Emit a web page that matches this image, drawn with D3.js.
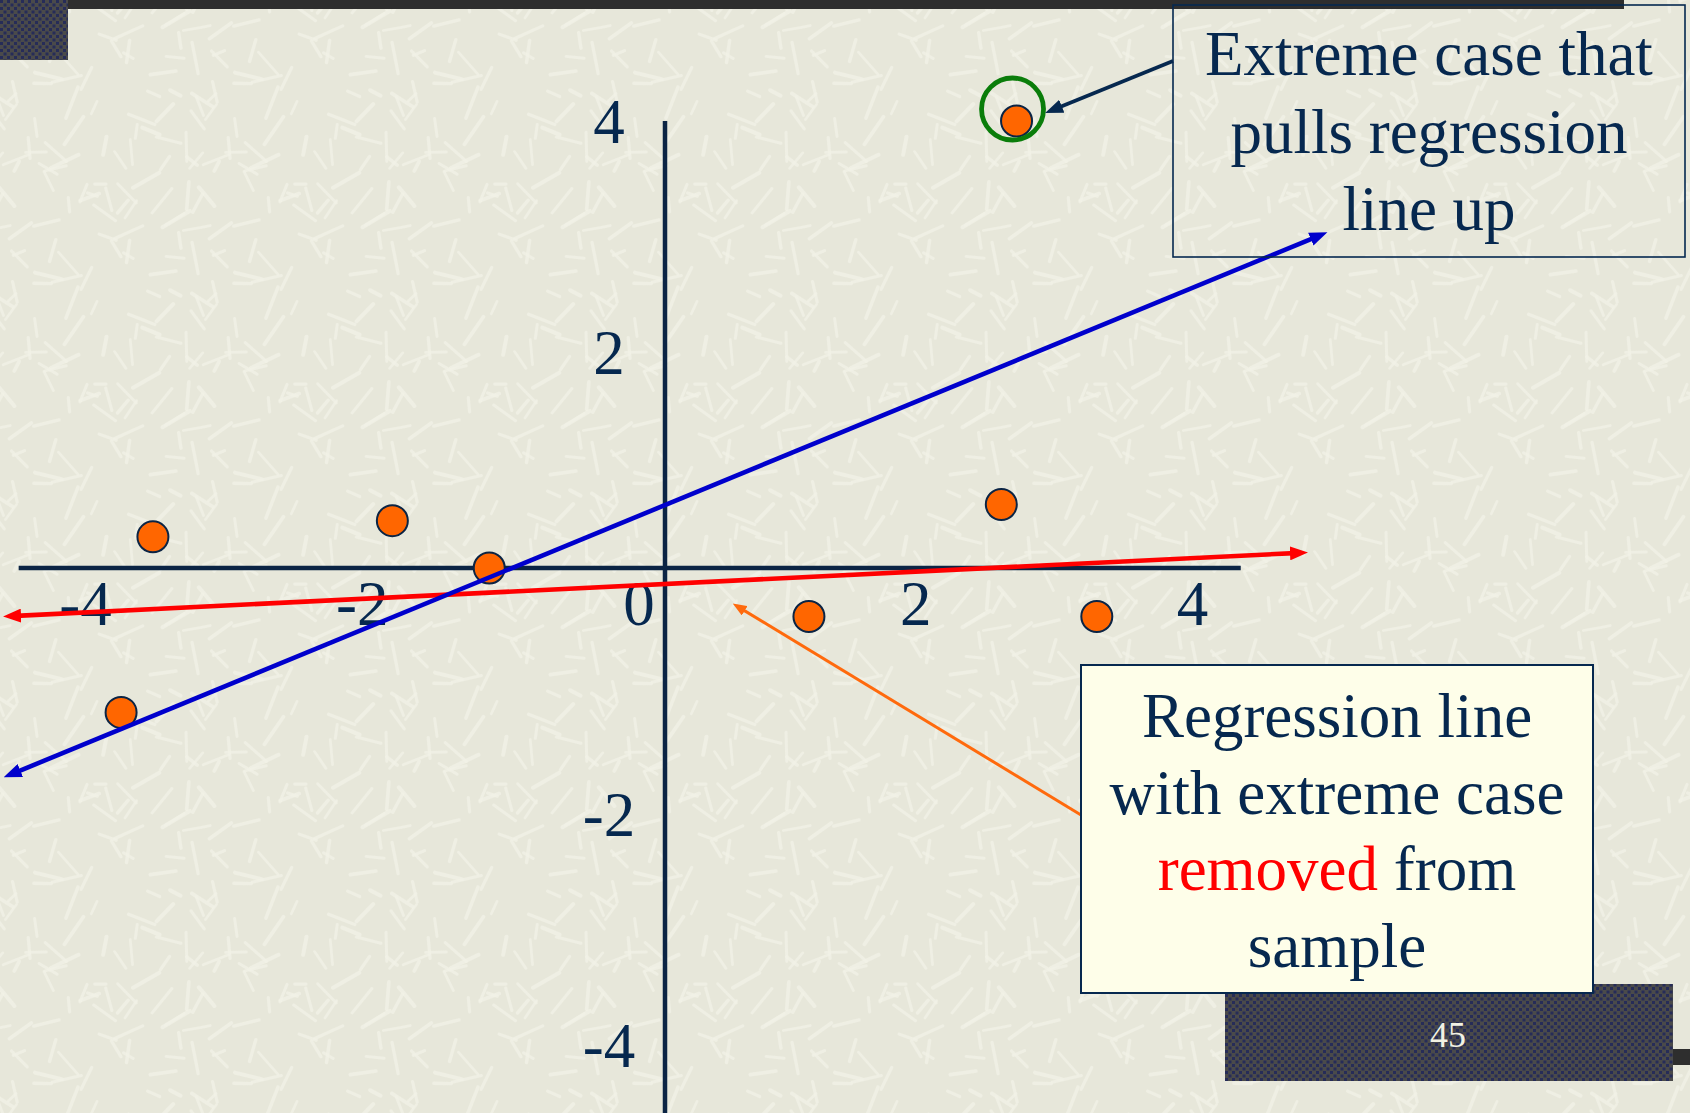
<!DOCTYPE html>
<html><head><meta charset="utf-8">
<script src="https://cdn.jsdelivr.net/npm/d3@7"></script>
<style>html,body{margin:0;padding:0;overflow:hidden;background:#e8e8dc}</style>
</head><body>
<script>
// ---------- data ----------
const xTickValues = [-4, -2, 0, 2, 4];
const yTickValues = [4, 2, -2, -4];
const pointX = [-3.70, -1.97, -1.27, -3.93, 2.54, 2.43, 1.04, 3.12];
const pointY = [0.27, 0.41, 0.00, -1.25, 3.87, 0.55, -0.42, -0.42];
const extremeIndex = 4;
const lineNames = ["with extreme case", "extreme case removed"];
const lineIntercepts = [0.545, -0.1385];
const lineSlopes = [0.4934, 0.0588];
const lineStarts = [-4.725, -4.725];
const lineEnds = [4.733, 4.588];
const xAxisExtent = [-4.67, 4.16];
const yAxisExtent = [3.87, -4.9];
const topNote = ["Extreme case that", "pulls regression", "line up"];
const bottomNote = [
  [{t: "Regression line", red: false}],
  [{t: "with extreme case", red: false}],
  [{t: "removed", red: true}, {t: " from", red: false}],
  [{t: "sample", red: false}]
];
const pageNumber = "45";

// ---------- setup ----------
const W = 1690, H = 1113;
const NAVY = "#06284f", AXIS = "#0b2444";
const FONT = "'Liberation Serif','Times New Roman',serif";
const x = d3.scaleLinear().domain([-4, 4]).range([665 - 4 * 138.4, 665 + 4 * 138.4]);
const y = d3.scaleLinear().domain([-4, 4]).range([568 + 4 * 115.5, 568 - 4 * 115.5]);

const svg = d3.select("body").append("svg").attr("width", W).attr("height", H);
const defs = svg.append("defs");

// background texture (decorative only)
const T = 200;
const tex = defs.append("pattern").attr("id", "tex").attr("patternUnits", "userSpaceOnUse")
  .attr("width", T).attr("height", T);
tex.append("rect").attr("width", T).attr("height", T).attr("fill", "#e7e7da");
let seed = 4242;
function rnd() { seed = (seed * 16807) % 2147483647; return seed / 2147483647; }
for (let i = 0; i < 70; i++) {
  const cx = rnd() * T, cy = rnd() * T, a = rnd() * Math.PI, L = 10 + rnd() * 24;
  const dx = Math.cos(a) * L / 2, dy = Math.sin(a) * L / 2;
  const sw = 2.6 + rnd() * 1.4;
  for (const ox of [-T, 0, T]) for (const oy of [-T, 0, T]) {
    tex.append("line").attr("x1", cx - dx + ox).attr("y1", cy - dy + oy)
      .attr("x2", cx + dx + ox).attr("y2", cy + dy + oy)
      .attr("stroke", "#f2f2e7").attr("stroke-width", sw)
      .attr("stroke-linecap", "round").attr("opacity", 0.75);
  }
}
// checker pattern for dark slide blocks
const chk = defs.append("pattern").attr("id", "chk").attr("patternUnits", "userSpaceOnUse")
  .attr("width", 7).attr("height", 7);
chk.append("rect").attr("width", 7).attr("height", 7).attr("fill", "#4a4a4a");
chk.append("rect").attr("x", 0).attr("y", 0).attr("width", 3).attr("height", 3).attr("fill", "#262c58");
chk.append("rect").attr("x", 3.5).attr("y", 3.5).attr("width", 3).attr("height", 3).attr("fill", "#262c58");

function marker(id, color, w, h, ref) {
  defs.append("marker").attr("id", id).attr("markerUnits", "userSpaceOnUse")
    .attr("viewBox", `0 0 ${w} ${h}`).attr("markerWidth", w).attr("markerHeight", h)
    .attr("refX", ref).attr("refY", h / 2).attr("orient", "auto-start-reverse")
    .append("path").attr("d", `M0,0 L${w},${h / 2} L0,${h} Z`).attr("fill", color);
}
marker("mBlue", "#0000cc", 18, 14, 10);
marker("mRed", "#ff0000", 18, 14, 10);
marker("mNavy", NAVY, 18, 14, 10);
marker("mOrange", "#ff6a0d", 14, 11, 9);

svg.append("rect").attr("width", W).attr("height", H).attr("fill", "url(#tex)");

// slide decorations
svg.append("rect").attr("x", 68).attr("y", 0).attr("width", 1556).attr("height", 9).attr("fill", "#2e2e2e");
svg.append("rect").attr("x", 0).attr("y", 0).attr("width", 68).attr("height", 60).attr("fill", "url(#chk)");
svg.append("rect").attr("x", 1225).attr("y", 984).attr("width", 448).attr("height", 97).attr("fill", "url(#chk)");
svg.append("rect").attr("x", 1673).attr("y", 1049).attr("width", 17).attr("height", 16).attr("fill", "#2e2e2e");

// ---------- axes ----------
svg.append("line").attr("x1", x(xAxisExtent[0])).attr("x2", x(xAxisExtent[1]))
  .attr("y1", y(0)).attr("y2", y(0)).attr("stroke", AXIS).attr("stroke-width", 4.5);
svg.append("line").attr("x1", x(0)).attr("x2", x(0))
  .attr("y1", y(yAxisExtent[0])).attr("y2", y(yAxisExtent[1])).attr("stroke", AXIS).attr("stroke-width", 4.5);

svg.append("g").selectAll("text").data(xTickValues).join("text")
  .attr("x", d => x(d) - 26).attr("y", y(0) + 57)
  .attr("text-anchor", "middle").attr("font-family", FONT).attr("font-size", 63)
  .attr("fill", NAVY).text(d => d);
svg.append("g").selectAll("text").data(yTickValues).join("text")
  .attr("x", x(0) - 56).attr("y", d => y(d) + 37)
  .attr("text-anchor", "middle").attr("font-family", FONT).attr("font-size", 63)
  .attr("fill", NAVY).text(d => d);

// ---------- points ----------
const pts = pointX.map((v, i) => ({x: v, y: pointY[i]}));
svg.append("g").selectAll("circle").data(pts).join("circle")
  .attr("cx", d => x(d.x)).attr("cy", d => y(d.y)).attr("r", 15.5)
  .attr("fill", "#ff6600").attr("stroke", "#0b2444").attr("stroke-width", 2);

// ---------- regression lines ----------
const lineColors = ["#0000cc", "#ff0000"];
const lineMarkers = ["mBlue", "mRed"];
[1, 0].forEach(i => {
  const a = lineStarts[i], b = lineEnds[i];
  svg.append("line")
    .attr("x1", x(a)).attr("y1", y(lineIntercepts[i] + lineSlopes[i] * a))
    .attr("x2", x(b)).attr("y2", y(lineIntercepts[i] + lineSlopes[i] * b))
    .attr("stroke", lineColors[i]).attr("stroke-width", 4.6)
    .attr("marker-start", `url(#${lineMarkers[i]})`).attr("marker-end", `url(#${lineMarkers[i]})`)
    .attr("data-name", lineNames[i]);
});

// ---------- annotations ----------
const ex = pts[extremeIndex];
const gcx = x(ex.x) - 4, gcy = y(ex.y) - 12;
svg.append("circle").attr("cx", gcx).attr("cy", gcy).attr("r", 31)
  .attr("fill", "none").attr("stroke", "#0a7d0a").attr("stroke-width", 4.8);

// arrow from top box to highlighted point
svg.append("line").attr("x1", 1173).attr("y1", 61).attr("x2", gcx + 40).attr("y2", gcy + 1)
  .attr("stroke", NAVY).attr("stroke-width", 3.6).attr("marker-end", "url(#mNavy)");

// top note box
svg.append("rect").attr("x", 1173).attr("y", 5).attr("width", 512).attr("height", 252)
  .attr("fill", "none").attr("stroke", NAVY).attr("stroke-width", 1.6);
svg.append("g").selectAll("text").data(topNote).join("text")
  .attr("x", 1429).attr("y", (d, i) => 75 + i * 77.5)
  .attr("text-anchor", "middle").attr("font-family", FONT).attr("font-size", 63)
  .attr("fill", NAVY).text(d => d);

// orange arrow from bottom box to red line
svg.append("line").attr("x1", 1081).attr("y1", 815).attr("x2", x(0.52)).attr("y2", y(-0.33))
  .attr("stroke", "#ff6a0d").attr("stroke-width", 3).attr("marker-end", "url(#mOrange)");

// bottom note box
svg.append("rect").attr("x", 1081).attr("y", 665).attr("width", 512).attr("height", 328)
  .attr("fill", "#fefee9").attr("stroke", NAVY).attr("stroke-width", 2);
const bt = svg.append("g").selectAll("text").data(bottomNote).join("text")
  .attr("x", 1337).attr("y", (d, i) => 737 + i * 76.7)
  .attr("text-anchor", "middle").attr("font-family", FONT).attr("font-size", 63);
bt.selectAll("tspan").data(d => d).join("tspan")
  .attr("fill", d => d.red ? "#ff0000" : NAVY).text(d => d.t);

// page number
svg.append("text").attr("x", 1448).attr("y", 1047).attr("text-anchor", "middle")
  .attr("font-family", FONT).attr("font-size", 36).attr("fill", "#f2f2e4").text(pageNumber);
</script>
</body></html>
